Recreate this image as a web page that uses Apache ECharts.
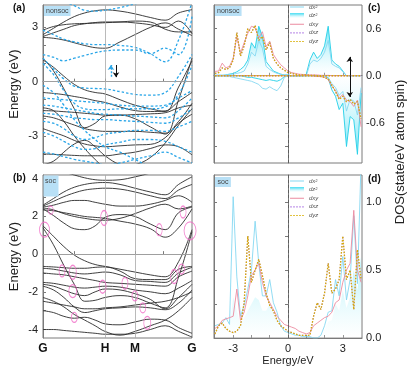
<!DOCTYPE html>
<html>
<head>
<meta charset="utf-8">
<script src="https://cdn.jsdelivr.net/npm/echarts@6/dist/echarts.min.js"></script>
<style>
html, body { margin: 0; padding: 0; background: #fff; }
#chart { width: 411px; height: 367px; }
</style>
</head>
<body>
<div id="chart"></div>
<script>
// k path G-H-M-G (fraction of path length)
var kPts = [0, 0.07, 0.14, 0.21, 0.28, 0.35, 0.416, 0.517, 0.617, 0.72, 0.82, 0.91, 1];
var kTicks = [0, 0.416, 0.617, 1];
var kNames = ['G', 'H', 'M', 'G'];

// (a) nonsoc, spin down (black solid)
var aDown = [
  [2.6, 2.95, 3.3, 3.6, 3.8, 3.92, 3.97, 3.9, 3.75, 3.55, 3.4, 3.8, 3.98],
  [2.5, 2.7, 2.9, 3.1, 3.2, 3.27, 3.3, 3.3, 3.25, 3.15, 3.0, 3.35, 2.65],
  [2.45, 2.4, 2.3, 2.15, 2.0, 1.88, 1.85, 2.2, 2.6, 3.0, 3.25, 2.9, 2.55],
  [2.85, 3.05, 3.15, 3.2, 3.22, 3.24, 3.26, 3.3, 3.35, 3.3, 2.9, 2.75, 2.75],
  [1.3, 0.6, -0.4, -1.5, -2.55, -2.3, -1.9, -1.85, -2.05, -2.5, -2.9, -1.0, 1.3],
  [1.2, 0.8, 0.3, -0.15, -0.45, -0.6, -0.68, -1.0, -1.3, -1.5, -1.65, -0.3, 1.15],
  [-0.6, -0.65, -0.72, -0.82, -0.92, -1.05, -1.15, -1.4, -1.6, -1.65, -1.62, -1.1, -0.6],
  [-1.45, -1.6, -2.2, -3.0, -3.7, -4.3, -4.7, -4.7, -4.6, -4.2, -3.4, -2.4, -1.5],
  [-1.6, -1.62, -1.66, -1.7, -1.75, -1.8, -1.85, -1.85, -1.82, -1.78, -1.72, -1.45, -1.3],
  [-4.6, -4.4, -3.9, -3.45, -3.25, -3.6, -4.1, -4.6, -4.8, -4.8, -4.8, -4.8, -4.8],
  [-4.0, -4.02, -4.05, -4.08, -4.1, -4.1, -4.1, -4.0, -3.9, -3.7, -3.5, -3.6, -4.05],
  [-1.9, -2.0, -2.2, -2.4, -2.6, -2.7, -2.75, -2.75, -2.75, -2.8, -2.85, -2.2, -1.2],
  [-2.6, -2.8, -3.0, -3.25, -3.45, -3.55, -3.6, -3.55, -3.5, -3.47, -3.1, -2.3, -1.8]
];
// (a) nonsoc, spin up (blue dotted)
var aUp = [
  [4.5, 4.5, 4.4, 4.2, 3.95, 3.9, 3.95, 4.1, 4.3, 4.5, 4.5, 4.5, 4.5],
  [2.85, 2.6, 2.35, 2.2, 2.1, 2.05, 2.05, 2.0, 1.9, 1.55, 1.1, 2.3, 4.4],
  [1.5, 1.35, 1.15, 1.3, 1.45, 1.6, 1.7, 1.75, 1.75, 1.55, 1.85, 1.5, 3.6],
  [1.3, 0.7, 0.15, -0.25, -0.35, -0.38, -0.4, -0.55, -0.7, -0.75, -0.6, 0.3, 1.5],
  [1.0, 0.4, -0.5, -1.2, -1.5, -1.55, -1.55, -1.5, -1.5, -1.5, -1.4, -0.7, 0.9],
  [-0.9, -0.95, -1.0, -1.05, -1.1, -1.15, -1.2, -1.3, -1.35, -1.35, -1.3, -0.9, -0.5],
  [-1.3, -1.35, -1.45, -1.55, -1.65, -1.75, -1.8, -1.85, -1.9, -1.95, -2.0, -1.6, -0.9],
  [-1.75, -1.8, -1.9, -2.0, -2.05, -2.1, -2.1, -2.15, -2.2, -2.25, -2.3, -2.0, -1.5],
  [-2.2, -2.3, -2.6, -3.0, -3.2, -3.1, -2.9, -2.8, -2.7, -2.7, -2.75, -2.5, -2.2],
  [-2.8, -3.0, -3.3, -3.6, -3.75, -3.7, -3.5, -3.35, -3.2, -3.2, -3.3, -3.6, -3.9],
  [-3.9, -4.0, -4.15, -4.3, -4.4, -4.5, -4.6, -4.5, -4.3, -4.1, -3.9, -4.2, -4.5],
  [-0.2, -0.6, -1.3, -2.1, -2.7, -3.2, -3.6, -3.9, -4.3, -4.7, -4.8, -4.8, -4.8]
];
// (b) soc bands
var bSoc = [
  [4.5, 4.45, 4.35, 4.2, 4.05, 3.95, 3.92, 3.95, 4.1, 4.3, 4.5, 4.5, 4.5],
  [2.6, 2.95, 3.3, 3.55, 3.7, 3.78, 3.8, 3.7, 3.5, 3.3, 3.15, 3.7, 4.1],
  [2.55, 2.8, 3.05, 3.25, 3.4, 3.47, 3.5, 3.45, 3.3, 3.1, 2.95, 3.4, 3.7],
  [2.5, 2.6, 2.75, 2.85, 2.85, 2.75, 2.65, 2.55, 2.55, 2.65, 2.85, 3.1, 2.75],
  [2.45, 2.35, 2.15, 2.0, 1.9, 1.82, 1.8, 1.9, 2.15, 2.45, 2.65, 2.4, 2.55],
  [2.4, 2.05, 1.65, 1.35, 1.3, 1.5, 1.95, 2.1, 2.0, 1.6, 1.3, 2.2, 2.5],
  [2.35, 2.3, 2.2, 2.1, 2.0, 1.95, 1.9, 1.75, 1.6, 1.35, 0.9, 1.4, 2.4],
  [1.5, 0.95, 0.4, -0.05, -0.35, -0.55, -0.65, -0.8, -0.95, -1.1, -1.2, -0.4, 1.3],
  [1.4, 0.5, -0.6, -1.6, -2.5, -2.45, -2.3, -2.2, -2.3, -2.6, -2.85, -1.2, 1.2],
  [-0.65, -0.68, -0.72, -0.75, -0.75, -0.7, -0.68, -0.9, -1.3, -1.35, -1.35, -0.8, -0.65],
  [-0.75, -0.8, -0.9, -1.0, -1.05, -1.0, -0.95, -1.1, -1.4, -1.45, -1.5, -1.0, -0.7],
  [-1.0, -1.05, -1.1, -1.2, -1.3, -1.4, -1.5, -1.55, -1.6, -1.65, -1.7, -1.2, -0.9],
  [-1.5, -1.55, -1.65, -1.75, -1.8, -1.75, -1.7, -1.75, -1.9, -2.0, -2.1, -1.8, -1.4],
  [-1.6, -1.7, -1.9, -2.1, -2.2, -2.0, -1.85, -1.9, -2.1, -2.4, -2.9, -2.3, -1.6],
  [-1.7, -1.9, -2.3, -2.8, -3.1, -3.0, -2.9, -2.85, -2.8, -2.85, -2.95, -2.6, -1.9],
  [-2.3, -2.5, -2.8, -3.2, -3.5, -3.8, -4.1, -4.3, -4.1, -3.8, -3.5, -3.0, -2.3],
  [-3.0, -3.1, -3.3, -3.4, -3.35, -3.5, -3.7, -3.75, -3.6, -3.45, -3.5, -3.9, -4.2],
  [-4.0, -4.0, -4.05, -4.1, -4.15, -4.2, -4.25, -4.25, -4.2, -4.0, -3.8, -4.1, -4.4],
  [-2.5, -2.6, -2.7, -2.8, -2.9, -2.9, -2.85, -2.8, -2.7, -2.6, -2.5, -2.3, -2.0]
];
// marked crossings in (b): [k, E]
var socRings = [[0.01, 1.3], [0.052, 2.33], [0.41, 1.92], [0.78, 1.3], [0.94, 2.24], [0.987, 1.24],
  [0.128, -0.89], [0.2, -0.96], [0.2, -1.96], [0.4, -1.73], [0.55, -1.55], [0.617, -2.22],
  [0.67, -2.85], [0.70, -3.65], [0.21, -3.36], [0.88, -1.19], [0.93, -0.79]];

// DOS energy grid (eV)
var eGrid = [-4.0, -3.8, -3.6, -3.4, -3.2, -3.0, -2.8, -2.6, -2.4, -2.2, -2.0, -1.8, -1.6, -1.4, -1.2, -1.0, -0.8, -0.6, -0.4, -0.2, 0.0,
  0.2, 0.4, 0.6, 0.8, 1.0, 1.2, 1.4, 1.6, 1.8, 2.0, 2.2, 2.4, 2.6, 2.8, 3.0, 3.2, 3.4, 3.6, 3.8, 4.0];

// (c) nonsoc DOS, up (+) and down (-)
var cX2Up = [0.01, 0.01, 0.01, 0.01, 0.02, 0.02, 0.03, 0.04, 0.06, 0.15, 0.3, 0.25, 0.45, 0.35, 0.12, 0.08, 0.05, 0.03, 0.02, 0.01, 0.01,
  0, 0, 0, 0, 0, 0.15, 0.2, 0.18, 0.22, 0.3, 0.45, 0.15, 0.12, 0.1, 0.05, 0, 0, 0, 0, 0];
var cZ2Up = [0, 0, 0, 0.01, 0.02, 0.03, 0.05, 0.08, 0.12, 0.2, 0.42, 0.35, 0.63, 0.5, 0.18, 0.12, 0.06, 0.04, 0.02, 0.01, 0.01,
  0, 0, 0, 0, 0.02, 0.2, 0.3, 0.22, 0.27, 0.38, 0.63, 0.2, 0.15, 0.12, 0.06, 0, 0, 0, 0, 0];
var cXyUp = [0.055, 0.06, 0.16, 0.1, 0.12, 0.22, 0.5, 0.29, 0.42, 0.54, 0.63, 0.61, 0.48, 0.56, 0.37, 0.44, 0.27, 0.2, 0.14, 0.1, 0.06,
  0.04, 0.03, 0.02, 0.017, 0.013, 0.01, 0.01, 0.01, 0.005, 0.005, 0.005, 0, 0, 0, 0, 0, 0, 0, 0, 0];
var cYzUp = [0.03, 0.04, 0.1, 0.08, 0.1, 0.2, 0.55, 0.25, 0.38, 0.6, 0.55, 0.64, 0.45, 0.5, 0.33, 0.42, 0.22, 0.15, 0.1, 0.07, 0.04,
  0.03, 0.02, 0.01, 0.01, 0.01, 0.005, 0.005, 0, 0, 0, 0, 0, 0, 0, 0, 0, 0, 0, 0, 0];
var cX2Dn = [0, 0, 0, -0.01, -0.01, -0.02, -0.03, -0.04, -0.05, -0.06, -0.07, -0.09, -0.11, -0.16, -0.17, -0.14, -0.17, -0.19, -0.13, -0.02, 0,
  0, 0, 0, 0, 0, 0, 0, 0, 0, 0, -0.02, -0.1, -0.15, -0.25, -0.2, -0.45, -0.3, -0.32, -0.5, -0.15];
var cZ2Dn = [0, 0, 0, 0, 0, 0, 0, 0, -0.01, -0.02, -0.02, -0.03, -0.04, -0.05, -0.06, -0.05, -0.06, -0.07, -0.05, -0.01, 0,
  0, 0, 0, 0, 0, 0, 0, 0, 0, 0, -0.03, -0.18, -0.26, -0.43, -0.35, -0.9, -0.52, -0.56, -1.0, -0.22];
var cXyDn = [0, 0, 0, 0, 0, 0, 0, 0, 0, 0, 0, 0, 0, 0, 0, 0, 0, 0, 0, 0, 0,
  0, 0, 0, 0, 0, 0, -0.005, -0.01, -0.01, -0.02, -0.05, -0.13, -0.19, -0.28, -0.24, -0.31, -0.33, -0.39, -0.31, -0.65];
var cYzDn = [0, 0, 0, 0, 0, 0, 0, 0, 0, 0, 0, 0, 0, 0, 0, 0, 0, 0, 0, 0, 0,
  0, 0, 0, 0, 0, 0, 0, -0.005, -0.01, -0.02, -0.04, -0.12, -0.2, -0.3, -0.26, -0.33, -0.3, -0.36, -0.33, -0.55];

// (d) soc DOS
var dX2 = [0.09, 0.1, 0.11, 0.15, 0.1, 1.04, 0.45, 0.16, 0.24, 0.36, 0.5, 0.86, 0.55, 0.31, 0.31, 0.43, 0.26, 0.19, 0.09, 0.05, 0.04,
  0.03, 0.02, 0.02, 0.01, 0.01, 0.01, 0, 0, 0.02, 0.09, 0.19, 0.2, 0.43, 0.31, 0.6, 0.28, 0.43, 0.9, 0.4, 1.3];
var dZ2 = [0.06, 0.07, 0.08, 0.1, 0.08, 0.3, 0.2, 0.1, 0.15, 0.2, 0.25, 0.3, 0.28, 0.2, 0.2, 0.25, 0.18, 0.12, 0.06, 0.04, 0.03,
  0.02, 0.01, 0.01, 0.01, 0, 0, 0, 0, 0.01, 0.06, 0.12, 0.13, 0.25, 0.2, 0.35, 0.22, 0.3, 0.5, 0.35, 0.6];
var dXy = [0.07, 0.09, 0.13, 0.14, 0.15, 0.16, 0.36, 0.13, 0.19, 0.31, 0.46, 0.5, 0.55, 0.41, 0.31, 0.26, 0.21, 0.16, 0.13, 0.1, 0.09,
  0.08, 0.07, 0.05, 0.04, 0.03, 0.04, 0.09, 0.11, 0.13, 0.15, 0.16, 0.19, 0.26, 0.28, 0.41, 0.5, 0.55, 0.94, 0.5, 0.41];
var dYz = [0.03, 0.09, 0.11, 0.07, 0.05, 0.04, 0.05, 0.09, 0.26, 0.75, 0.41, 0.5, 0.58, 0.46, 0.33, 0.24, 0.2, 0.13, 0.09, 0.07, 0.05,
  0.04, 0.03, 0.02, 0.02, 0.02, 0.02, 0.16, 0.26, 0.21, 0.33, 0.55, 0.33, 0.36, 0.43, 0.75, 0.43, 0.5, 0.21, 0.65, 0.43];

var ringSize = [[10, 15], [5, 8], [7, 15], [6, 12], [6, 12], [12, 18], [6, 12], [7, 14], [8, 13], [7, 13],
  [6, 12], [6, 10], [6, 10], [7, 13], [6, 10], [7, 14], [6, 10]];

var FONT = 'Liberation Sans, Arial, sans-serif';
var myChart = echarts.init(document.getElementById('chart'));

function pairs(xs, ys) {
  return ys.map(function (y, i) { return [xs[i], y]; });
}

var series = [];

// band panels
function addBands(list, grid, lineStyle) {
  list.forEach(function (b) {
    series.push({
      type: 'line', xAxisIndex: grid, yAxisIndex: grid,
      data: pairs(kPts, b), symbol: 'none', smooth: 0.4, silent: true,
      lineStyle: lineStyle
    });
  });
}
var black = { color: '#2a2a2a', width: 0.9 };
var blueDot = { color: '#2aa6e8', width: 1.3, type: [2.5, 2] };
addBands(aDown, 0, black);
addBands(aUp, 0, blueDot);
addBands(bSoc, 1, black);

// reference lines for H, M and E=0
[0, 1].forEach(function (g) {
  series.push({
    type: 'line', xAxisIndex: g, yAxisIndex: g, data: [], silent: true, z: 1,
    markLine: {
      symbol: 'none', silent: true, label: { show: false }, animation: false,
      lineStyle: { color: '#a8a8a8', width: 0.8, type: 'solid' },
      data: [{ xAxis: kTicks[1] }, { xAxis: kTicks[2] }, { yAxis: 0 }]
    }
  });
});
// spin arrows in (a)
series.push({
  type: 'line', xAxisIndex: 0, yAxisIndex: 0, data: [], silent: true,
  markLine: {
    symbol: ['none', 'arrow'], symbolSize: 5, silent: true, label: { show: false }, animation: false,
    data: [
      [{ coord: [0.456, 0.27], lineStyle: { color: '#2aa6e8', type: [2, 1.5], width: 1.4 } }, { coord: [0.456, 0.92] }],
      [{ coord: [0.49, 0.92], lineStyle: { color: '#111', type: 'solid', width: 1 } }, { coord: [0.49, 0.25] }]
    ]
  }
});
// crossing rings in (b)
series.push({
  type: 'scatter', xAxisIndex: 1, yAxisIndex: 1, data: socRings, silent: true, z: 5,
  symbol: 'circle',
  symbolSize: function (v, p) { return ringSize[p.dataIndex]; },
  itemStyle: { color: 'rgba(0,0,0,0)', borderColor: '#f06ac6', borderWidth: 1 }
});

// DOS panels
var colX2 = '#86d8f2', colZ2 = '#22cfe8', colXy = '#ec8ba0', colXz = '#b07be4', colYz = '#d8ae00';
function fillUp(top) {
  return { type: 'linear', x: 0, y: 0, x2: 0, y2: 1,
    colorStops: [{ offset: 0, color: top }, { offset: 1, color: 'rgba(255,255,255,0.3)' }] };
}
function fillDown(bottom) {
  return { type: 'linear', x: 0, y: 0, x2: 0, y2: 1,
    colorStops: [{ offset: 0, color: 'rgba(255,255,255,0.3)' }, { offset: 1, color: bottom }] };
}
function dos(name, vals, grid, color, opts) {
  var s = {
    name: name, type: 'line', xAxisIndex: grid, yAxisIndex: grid,
    data: pairs(eGrid, vals), symbol: 'none', silent: true, color: color,
    lineStyle: { color: color, width: 0.9 }
  };
  if (opts) { for (var k in opts) s[k] = opts[k]; }
  series.push(s);
}
var dotted = [1.5, 1.5];
// (c)
dos('dz²', cZ2Up, 2, colZ2, { areaStyle: { color: fillUp('rgba(40,215,240,0.95)') } });
dos('dz²', cZ2Dn, 2, colZ2, { areaStyle: { color: fillDown('rgba(40,215,240,0.95)') } });
dos('dx²', cX2Up, 2, colX2);
dos('dx²', cX2Dn, 2, colX2);
dos('dxy', cXyUp, 2, colXy);
dos('dxy', cXyDn, 2, colXy);
dos('dxz', cYzUp, 2, colXz, { lineStyle: { color: colXz, width: 1.1, type: dotted } });
dos('dxz', cYzDn, 2, colXz, { lineStyle: { color: colXz, width: 1.1, type: dotted } });
dos('dyz', cYzUp, 2, colYz, { lineStyle: { color: colYz, width: 1.3, type: dotted } });
dos('dyz', cYzDn, 2, colYz, { lineStyle: { color: colYz, width: 1.3, type: dotted } });
// (d)
dos('dz²', dZ2, 3, colZ2, { lineStyle: { width: 0 }, areaStyle: { color: fillUp('rgba(60,220,240,0.6)') } });
dos('dx²', dX2, 3, colX2);
dos('dxy', dXy, 3, colXy);
dos('dxz', dYz, 3, colXz, { lineStyle: { color: colXz, width: 1.1, type: dotted } });
dos('dyz', dYz, 3, colYz, { lineStyle: { color: colYz, width: 1.3, type: dotted } });

// E=0 dashed line and spin arrows in DOS panels
[2, 3].forEach(function (g) {
  series.push({
    type: 'line', xAxisIndex: g, yAxisIndex: g, data: [], silent: true,
    markLine: {
      symbol: 'none', silent: true, label: { show: false }, animation: false,
      lineStyle: { color: '#555', width: 0.8, type: [3, 2] },
      data: [{ xAxis: 0 }]
    }
  });
});
series.push({
  type: 'line', xAxisIndex: 2, yAxisIndex: 2, data: [], silent: true,
  markLine: {
    symbol: ['none', 'arrow'], symbolSize: 5, silent: true, label: { show: false }, animation: false,
    lineStyle: { color: '#111', width: 1, type: 'solid' },
    data: [
      [{ coord: [3.38, 0.0] }, { coord: [3.38, 0.24] }],
      [{ coord: [3.38, 0.0] }, { coord: [3.38, -0.27] }]
    ]
  }
});

var axisCol = '#7a7a7a';
function bandX(grid, showLabels) {
  return {
    type: 'value', gridIndex: grid, min: 0, max: 1,
    axisLine: { lineStyle: { color: axisCol } },
    axisTick: { inside: true, length: 3, customValues: [0.208, 0.416, 0.617, 0.81], lineStyle: { color: axisCol } },
    axisLabel: showLabels ? {
      customValues: kTicks, margin: 5, fontSize: 12, fontWeight: 'bold', color: '#111', fontFamily: FONT,
      formatter: function (v) { return kNames[kTicks.indexOf(v)]; }
    } : { show: false },
    splitLine: { show: false }
  };
}
function dosX(grid, showLabels) {
  var ax = {
    type: 'value', gridIndex: grid, min: -4.05, max: 4.05,
    axisLine: { lineStyle: { color: axisCol } },
    axisTick: { inside: true, length: 3, customValues: [-3, -2, -1, 0, 1, 2, 3], lineStyle: { color: axisCol } },
    axisLabel: showLabels ? { customValues: [-3, 0, 3], margin: 5, fontSize: 11, color: '#222', fontFamily: FONT } : { show: false },
    splitLine: { show: false }
  };
  if (showLabels) {
    ax.name = 'Energy/eV';
    ax.nameLocation = 'middle';
    ax.nameGap = 17;
    ax.nameTextStyle = { fontSize: 11, color: '#222', fontFamily: FONT };
  }
  return ax;
}

// legend icons: thin solid / dotted strokes inside a 14x5 box, a filled box for dz²
var iconSolid = 'path://M0,0H0.01V0.01H0Z M0,5H0.01V5.01H0Z M0,2H14V3H0Z';
var iconDot = 'path://M0,0H0.01V0.01H0Z M0,5H0.01V5.01H0Z M0,2H1.5V3.2H0Z M3,2H4.5V3.2H3Z M6,2H7.5V3.2H6Z M9,2H10.5V3.2H9Z M12,2H13.5V3.2H12Z';
var iconBox = 'path://M0,0H14V5H0Z';

var option = {
  animation: false,
  backgroundColor: '#fff',
  grid: [
    { left: 43, top: 5, width: 149, height: 158, show: true, borderColor: axisCol, borderWidth: 1 },
    { left: 43, top: 175, width: 149, height: 163, show: true, borderColor: axisCol, borderWidth: 1 },
    { left: 214, top: 5, width: 148, height: 158, show: true, borderColor: axisCol, borderWidth: 1 },
    { left: 214, top: 175, width: 148, height: 164, show: true, borderColor: axisCol, borderWidth: 1 }
  ],
  xAxis: [bandX(0, false), bandX(1, true), dosX(2, false), dosX(3, true)],
  yAxis: [
    {
      type: 'value', gridIndex: 0, min: -4.5, max: 4.24,
      name: 'Energy (eV)', nameLocation: 'middle', nameGap: 22,
      nameTextStyle: { fontSize: 13, color: '#222', fontFamily: FONT },
      axisLine: { lineStyle: { color: axisCol } },
      axisTick: { inside: true, length: 3, customValues: [-4, -3, -2, -1, 0, 1, 2, 3, 4], lineStyle: { color: axisCol } },
      axisLabel: { customValues: [-3, 0, 3], fontSize: 11, color: '#222', margin: 5, fontFamily: FONT },
      splitLine: { show: false }
    },
    {
      type: 'value', gridIndex: 1, min: -4.45, max: 4.2,
      name: 'Energy (eV)', nameLocation: 'middle', nameGap: 22,
      nameTextStyle: { fontSize: 13, color: '#222', fontFamily: FONT },
      axisLine: { lineStyle: { color: axisCol } },
      axisTick: { inside: true, length: 3, customValues: [-4, -3, -2, -1, 0, 1, 2, 3, 4], lineStyle: { color: axisCol } },
      axisLabel: { customValues: [-4, -2, 0, 2, 4], fontSize: 11, color: '#222', margin: 5, fontFamily: FONT },
      splitLine: { show: false }
    },
    {
      type: 'value', gridIndex: 2, min: -1.11, max: 0.9, position: 'right',
      axisLine: { lineStyle: { color: axisCol } },
      axisTick: { inside: true, length: 3, customValues: [-0.9, -0.6, -0.3, 0, 0.3, 0.6], lineStyle: { color: axisCol } },
      axisLabel: { customValues: [-0.6, 0, 0.6], fontSize: 11, color: '#222', margin: 4, fontFamily: FONT,
        formatter: function (v) { return v.toFixed(1); } },
      splitLine: { show: false }
    },
    {
      type: 'value', gridIndex: 3, min: 0, max: 1.2, position: 'right',
      axisLine: { lineStyle: { color: axisCol } },
      axisTick: { inside: true, length: 3, customValues: [0.25, 0.5, 0.75, 1.0], lineStyle: { color: axisCol } },
      axisLabel: { customValues: [0, 0.5, 1.0], fontSize: 11, color: '#222', margin: 4, fontFamily: FONT,
        formatter: function (v) { return v.toFixed(1); } },
      splitLine: { show: false }
    },
    {
      type: 'value', gridIndex: 2, min: -1.11, max: 0.9, position: 'left',
      axisLine: { lineStyle: { color: axisCol } },
      axisTick: { inside: true, length: 3, customValues: [-0.9, -0.6, -0.3, 0, 0.3, 0.6], lineStyle: { color: axisCol } },
      axisLabel: { show: false }, splitLine: { show: false }
    },
    {
      type: 'value', gridIndex: 3, min: 0, max: 1.2, position: 'left',
      axisLine: { lineStyle: { color: axisCol } },
      axisTick: { inside: true, length: 3, customValues: [0.25, 0.5, 0.75, 1.0], lineStyle: { color: axisCol } },
      axisLabel: { show: false }, splitLine: { show: false }
    }
  ],
  legend: [178, 4].map(function (t) {
    return {
      orient: 'vertical', left: 290, top: t, itemWidth: 14, itemHeight: 5, itemGap: 2.6,
      selectedMode: false, padding: 0,
      textStyle: { fontSize: 6, color: '#555', fontStyle: 'italic', fontFamily: FONT },
      data: [
        { name: 'dx²', icon: iconSolid, itemStyle: { color: colX2 } },
        { name: 'dz²', icon: iconBox, itemStyle: { color: fillUp('rgba(40,215,240,0.95)') } },
        { name: 'dxy', icon: iconSolid, itemStyle: { color: colXy } },
        { name: 'dxz', icon: iconDot, itemStyle: { color: colXz } },
        { name: 'dyz', icon: iconDot, itemStyle: { color: colYz } }
      ]
    };
  }),
  graphic: [
    { type: 'text', x: 13, y: 3, style: { text: '(a)', font: 'bold 10px ' + FONT, fill: '#111' } },
    { type: 'text', x: 13, y: 173, style: { text: '(b)', font: 'bold 10px ' + FONT, fill: '#111' } },
    { type: 'text', x: 368, y: 3, style: { text: '(c)', font: 'bold 10px ' + FONT, fill: '#111' } },
    { type: 'text', x: 368, y: 174, style: { text: '(d)', font: 'bold 10px ' + FONT, fill: '#111' } },
    { type: 'text', x: 44, y: 6, z: 10, style: { text: 'nonsoc', font: '7px ' + FONT, fill: '#444', backgroundColor: '#b8e0f6', padding: [1.5, 2] } },
    { type: 'rect', x: 43.5, y: 175.5, z: 10, shape: { width: 15, height: 21 }, style: { fill: '#b8e0f6' } },
    { type: 'text', x: 45, y: 178, z: 11, style: { text: 'soc', font: '7px ' + FONT, fill: '#444' } },
    { type: 'text', x: 215, y: 6, z: 10, style: { text: 'nonsoc', font: '7px ' + FONT, fill: '#444', backgroundColor: '#b8e0f6', padding: [1.5, 2] } },
    { type: 'text', x: 215, y: 177, z: 10, style: { text: 'soc', font: '7px ' + FONT, fill: '#444', backgroundColor: '#b8e0f6', padding: [1.5, 2.5] } },
    { type: 'text', x: 400, y: 152, rotation: Math.PI / 2,
      style: { text: 'DOS(state/eV atom spin)', font: '13px ' + FONT, fill: '#222', align: 'center', verticalAlign: 'middle' } }
  ],
  series: series
};
myChart.setOption(option);
</script>
</body>
</html>
